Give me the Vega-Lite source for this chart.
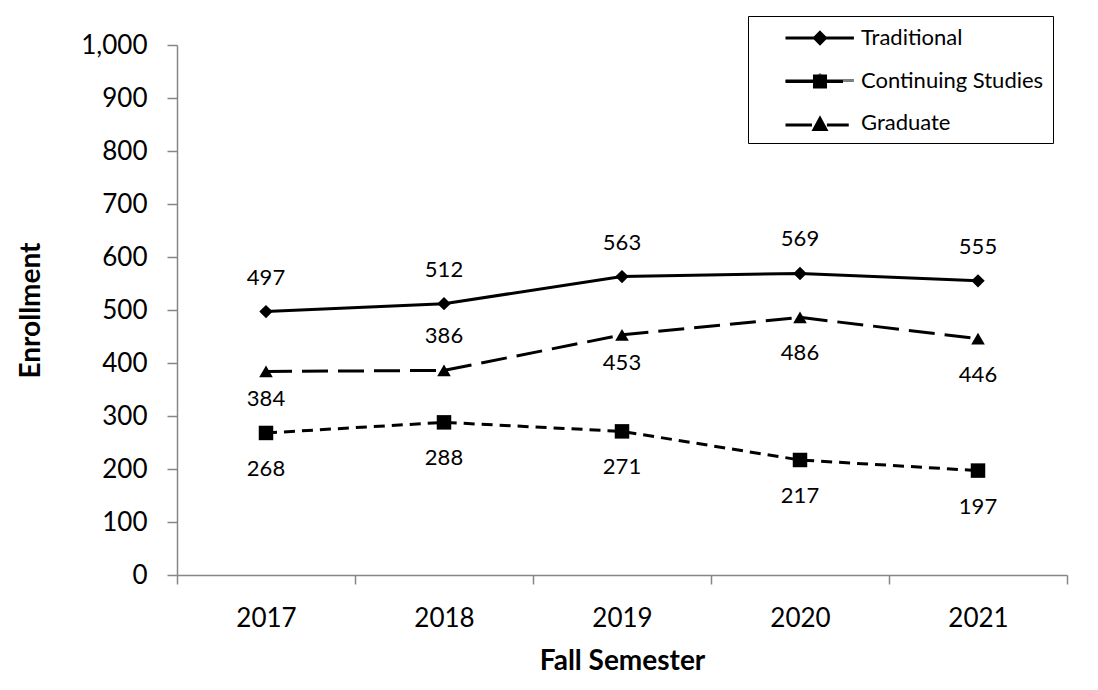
{
  "$schema": "https://vega.github.io/schema/vega-lite/v6.json",
  "width": 890,
  "height": 530,
  "autosize": "none",
  "padding": {"left": 177, "top": 45, "right": 31, "bottom": 115},
  "background": "white",
  "config": {
    "font": "Lato",
    "view": {"stroke": null},
    "axis": {"labelColor": "black", "titleColor": "black", "domainColor": "#868686", "tickColor": "#868686", "domainWidth": 1.5, "tickWidth": 1.5, "grid": false}
  },
  "resolve": {"scale": {"color": "independent"}, "legend": {"color": "independent"}},
  "data": {
    "values": [
      {"year": "2017", "series": "Traditional", "value": 497},
      {"year": "2018", "series": "Traditional", "value": 512},
      {"year": "2019", "series": "Traditional", "value": 563},
      {"year": "2020", "series": "Traditional", "value": 569},
      {"year": "2021", "series": "Traditional", "value": 555},
      {"year": "2017", "series": "Continuing Studies", "value": 268},
      {"year": "2018", "series": "Continuing Studies", "value": 288},
      {"year": "2019", "series": "Continuing Studies", "value": 271},
      {"year": "2020", "series": "Continuing Studies", "value": 217},
      {"year": "2021", "series": "Continuing Studies", "value": 197},
      {"year": "2017", "series": "Graduate", "value": 384},
      {"year": "2018", "series": "Graduate", "value": 386},
      {"year": "2019", "series": "Graduate", "value": 453},
      {"year": "2020", "series": "Graduate", "value": 486},
      {"year": "2021", "series": "Graduate", "value": 446}
    ]
  },
  "encoding": {
    "x": {
      "field": "year", "type": "ordinal",
      "scale": {"paddingInner": 0, "paddingOuter": 0},
      "axis": {"title": "Fall Semester", "labelAngle": 0, "labelFontSize": 26, "labelPadding": 21, "tickSize": 9, "tickBand": "extent", "titleFontSize": 28, "titleFontWeight": "bold", "titlePadding": 16}
    },
    "y": {
      "field": "value", "type": "quantitative",
      "scale": {"domain": [0, 1000], "nice": false, "zero": true},
      "axis": {"title": "Enrollment", "values": [0, 100, 200, 300, 400, 500, 600, 700, 800, 900, 1000], "format": ",.0f", "labelFontSize": 26, "labelPadding": 20, "tickSize": 10, "titleFontSize": 28, "titleFontWeight": "bold", "titlePadding": 35}
    }
  },
  "layer": [
    {
      "transform": [{"filter": "datum.series === 'Traditional'"}],
      "mark": {"type": "line", "color": "black", "strokeWidth": 3, "strokeCap": "butt"},
      "encoding": {
        "opacity": {
          "field": "series", "type": "nominal",
          "scale": {"domain": ["Traditional", "Continuing Studies", "Graduate"], "range": [1, 0, 0]},
          "legend": {
            "title": null,
            "orient": "none",
            "legendX": 571,
            "legendY": -29,
            "padding": 9,
            "strokeColor": "black",
            "symbolType": "M-3,0H2.95M0,-0.48L0.48,0L0,0.48L-0.48,0Z",
            "symbolSize": 529,
            "symbolOffset": 50,
            "symbolFillColor": "black",
            "symbolStrokeColor": "black",
            "symbolStrokeWidth": 3,
            "labelOffset": 28,
            "labelFontSize": 22,
            "labelColor": "black",
            "labelFont": "Lato",
            "labelLimit": 400,
            "rowPadding": 17.5,
            "encode": {"legend": {"strokeWidth": {"value": 2}}}
          }
        }
      }
    },
    {
      "transform": [{"filter": "datum.series === 'Continuing Studies'"}],
      "mark": {"type": "line", "strokeWidth": 3, "strokeCap": "butt", "strokeDash": [11, 7]},
      "encoding": {
        "color": {
          "field": "series", "type": "nominal",
          "scale": {"domain": ["Continuing Studies"], "range": ["black"]},
          "legend": {
            "title": null,
            "orient": "none",
            "legendX": 630,
            "legendY": 23.5,
            "padding": 0,
            "symbolType": "M-3,0H2M-0.48,-0.48H0.48V0.48H-0.48Z",
            "symbolSize": 529,
            "symbolOffset": 0,
            "symbolFillColor": "black",
            "symbolStrokeColor": "black",
            "symbolStrokeWidth": 3,
            "labelExpr": "''"
          }
        }
      }
    },
    {
      "transform": [{"filter": "datum.series === 'Graduate'"}],
      "mark": {"type": "line", "strokeWidth": 3, "strokeCap": "butt", "strokeDash": [26, 10]},
      "encoding": {
        "color": {
          "field": "series", "type": "nominal",
          "scale": {"domain": ["Graduate"], "range": ["black"]},
          "legend": {
            "title": null,
            "orient": "none",
            "legendX": 630,
            "legendY": 67,
            "padding": 0,
            "symbolType": "M-3,0H-0.7M0.6,0H2.5M0,-0.57L0.52,0.4L-0.52,0.4Z",
            "symbolSize": 529,
            "symbolOffset": 0,
            "symbolFillColor": "black",
            "symbolStrokeColor": "black",
            "symbolStrokeWidth": 3,
            "labelExpr": "''"
          }
        }
      }
    },
    {
      "transform": [{"filter": "datum.series === 'Traditional'"}],
      "mark": {"type": "point", "filled": true, "color": "black", "opacity": 1, "size": 180, "shape": "diamond"},
      "encoding": {}
    },
    {
      "transform": [{"filter": "datum.series === 'Continuing Studies'"}],
      "mark": {"type": "point", "filled": true, "color": "black", "opacity": 1, "size": 210, "shape": "square"},
      "encoding": {}
    },
    {
      "transform": [{"filter": "datum.series === 'Graduate'"}],
      "mark": {"type": "point", "filled": true, "color": "black", "opacity": 1, "size": 185, "shape": "triangle-up"},
      "encoding": {}
    },
    {
      "transform": [{"filter": "datum.series === 'Traditional' || (datum.series === 'Graduate' && datum.year === '2018')"}],
      "mark": {"type": "text", "fontSize": 22, "color": "black", "dy": -34, "baseline": "middle"},
      "encoding": {"text": {"field": "value", "type": "quantitative"}}
    },
    {
      "transform": [{"filter": "datum.series === 'Continuing Studies' || (datum.series === 'Graduate' && (datum.year === '2020' || datum.year === '2021'))"}],
      "mark": {"type": "text", "fontSize": 22, "color": "black", "dy": 36, "baseline": "middle"},
      "encoding": {"text": {"field": "value", "type": "quantitative"}}
    },
    {
      "transform": [{"filter": "datum.series === 'Graduate' && (datum.year === '2017' || datum.year === '2019')"}],
      "mark": {"type": "text", "fontSize": 22, "color": "black", "dy": 28, "baseline": "middle"},
      "encoding": {"text": {"field": "value", "type": "quantitative"}}
    }
  ]
}
